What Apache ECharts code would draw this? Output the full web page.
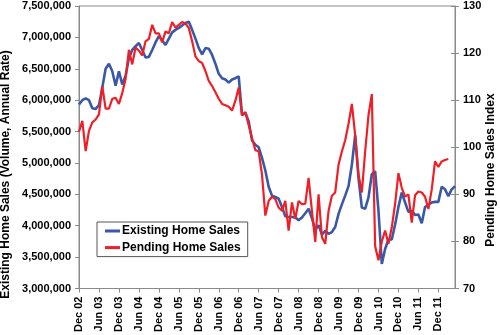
<!DOCTYPE html>
<html>
<head>
<meta charset="utf-8">
<script src="https://cdn.jsdelivr.net/npm/echarts@6/dist/echarts.min.js"></script>
<style>
html,body{margin:0;padding:0;background:#fff;}
#chart{width:500px;height:335px;}
</style>
</head>
<body>
<div id="chart"></div>
<script>
// Monthly categories Dec 02 .. May 12
const monthNames = ['Jan','Feb','Mar','Apr','May','Jun','Jul','Aug','Sep','Oct','Nov','Dec'];
const startYear = 2002, startMonth = 11, monthCount = 114;
const categories = [];
for (let k = 0; k < monthCount; k++) {
  const m = (startMonth + k) % 12;
  const y = startYear + Math.floor((startMonth + k) / 12);
  categories.push(monthNames[m] + ' ' + String(y % 100).padStart(2, '0'));
}

// Existing home sales (millions, SAAR) – left axis
const existingMillions = [
  5.93, 6.00, 6.03, 6.00, 5.87, 5.86, 5.92, 6.20, 6.50, 6.58,
  6.46, 6.23, 6.46, 6.25, 6.39, 6.67, 6.80, 6.86, 6.91, 6.80,
  6.68, 6.69, 6.80, 6.92, 7.02, 6.95, 6.88, 6.98, 7.08, 7.12,
  7.15, 7.19, 7.23, 7.25, 7.12, 6.98, 6.83, 6.73, 6.83, 6.82,
  6.72, 6.58, 6.42, 6.35, 6.33, 6.28, 6.33, 6.35, 6.38, 5.76,
  5.80, 5.66, 5.36, 5.29, 5.25, 5.08, 4.88, 4.62, 4.48, 4.46,
  4.43, 4.30, 4.15, 4.14, 4.14, 4.13, 4.09, 4.13, 4.20, 4.27,
  4.12, 3.93, 4.01, 3.86, 3.92, 3.87, 3.90, 3.98, 4.19, 4.34,
  4.48, 4.63, 4.97, 5.44, 4.76, 4.29, 4.27, 4.45, 4.82, 4.87,
  4.24, 3.39, 3.63, 3.78, 3.78, 4.02, 4.30, 4.53, 4.37, 4.22,
  4.24, 4.17, 4.18, 4.04, 4.30, 4.33, 4.37, 4.38, 4.38, 4.62,
  4.58, 4.47, 4.58, 4.63
];

// Pending home sales index – right axis
const pendingIndex = [
  103.3, 105.6, 99.2, 103.5, 105.3, 105.9, 107.0, 113.0, 108.2, 108.2,
  110.3, 110.5, 109.2, 111.5, 114.5, 120.7, 117.6, 121.2, 120.5, 119.5,
  122.5, 123.0, 126.0, 124.2, 124.2, 122.3, 124.6, 124.2, 126.6, 125.4,
  126.0, 126.6, 126.3, 125.3, 122.5, 119.3, 118.3, 117.9, 116.2, 114.1,
  113.0, 111.7, 110.3, 109.2, 108.9, 108.6, 107.8, 109.9, 112.7, 106.8,
  107.5, 104.7, 101.9, 99.4, 99.1, 94.2, 85.5, 88.6, 89.5, 89.0,
  87.2, 86.5, 88.6, 82.3, 88.3, 84.8, 88.6, 87.9, 88.0, 93.5,
  86.5, 79.9, 90.0, 80.9, 79.5, 86.5, 89.7, 90.4, 96.3, 99.1,
  101.5, 105.0, 109.2, 102.6, 94.2, 90.4, 99.1, 106.8, 111.3, 79.0,
  76.0, 80.0, 82.3, 79.5, 83.0, 88.0, 94.5, 91.4, 89.5, 90.0,
  84.0, 89.8, 90.6, 90.4, 89.5, 86.9, 91.0, 97.0, 95.8, 97.0,
  97.3, 97.5
];

const leftTicks = { min: 3000000, max: 7500000, step: 500000 };
const rightTicks = { min: 70, max: 130, step: 10 };
const seriesNames = ['Existing Home Sales', 'Pending Home Sales'];
const leftTitle = 'Existing Home Sales (Volume, Annual Rate)';
const rightTitle = 'Pending Home Sales Index';

const existing = existingMillions.map(v => Math.round(v * 1000000));
const FONT = '"Liberation Sans", Arial, sans-serif';
const AXIS_GREY = '#8a8a8a';
const BLUE = '#3b57a7';
const RED = '#ee1f26';

function commas(v) {
  return String(v).replace(/\B(?=(\d{3})+(?!\d))/g, ',');
}

const chart = echarts.init(document.getElementById('chart'), null, { renderer: 'canvas' });
chart.setOption({
  animation: false,
  backgroundColor: '#fff',
  textStyle: { fontFamily: FONT },
  grid: {
    left: 79, right: 45, top: 6, bottom: 43,
    show: true, borderColor: AXIS_GREY, borderWidth: 1, backgroundColor: 'transparent'
  },
  legend: {
    orient: 'vertical',
    left: 97, top: 222,
    padding: [2, 7, 2, 8],
    itemGap: 2.6,
    itemWidth: 15,
    itemHeight: 3,
    icon: 'rect',
    borderColor: '#555',
    borderWidth: 1,
    backgroundColor: '#fff',
    textStyle: { fontFamily: FONT, fontWeight: 'bold', fontSize: 12, color: '#000', lineHeight: 14, padding: [0, 0, 0, -3] },
    data: seriesNames
  },
  xAxis: {
    type: 'category',
    data: categories,
    boundaryGap: false,
    axisLine: { lineStyle: { color: AXIS_GREY, width: 1 } },
    axisTick: { interval: 5, length: 4, lineStyle: { color: AXIS_GREY } },
    axisLabel: {
      interval: 5, rotate: 90, margin: 8,
      fontFamily: FONT, fontWeight: 'bold', fontSize: 11, color: '#000'
    },
    splitLine: { show: false }
  },
  yAxis: [
    {
      type: 'value', position: 'left',
      min: leftTicks.min, max: leftTicks.max, interval: leftTicks.step,
      axisLine: { show: true, lineStyle: { color: AXIS_GREY } },
      axisTick: { show: true, length: 4, lineStyle: { color: AXIS_GREY } },
      axisLabel: { margin: 8, fontFamily: FONT, fontWeight: 'bold', fontSize: 11, color: '#000', formatter: v => commas(v) },
      splitLine: { show: false }
    },
    {
      type: 'value', position: 'right',
      min: rightTicks.min, max: rightTicks.max, interval: rightTicks.step,
      axisLine: { show: true, lineStyle: { color: AXIS_GREY } },
      axisTick: { show: true, length: 4, lineStyle: { color: AXIS_GREY } },
      axisLabel: { margin: 8, fontFamily: FONT, fontWeight: 'bold', fontSize: 11, color: '#000' },
      splitLine: { show: false }
    },
    {
      type: 'value', position: 'right',
      min: rightTicks.min, max: rightTicks.max, interval: rightTicks.step,
      axisLine: { show: false },
      axisTick: { show: true, inside: true, length: 4, lineStyle: { color: AXIS_GREY } },
      axisLabel: { show: false },
      splitLine: { show: false }
    }
  ],
  graphic: [
    {
      type: 'text', x: 6, y: 174.5, rotation: Math.PI / 2,
      style: { text: leftTitle, fontFamily: FONT, fontWeight: 'bold', fontSize: 12, fill: '#000', align: 'center', verticalAlign: 'middle' }
    },
    {
      type: 'text', x: 491, y: 170, rotation: Math.PI / 2,
      style: { text: rightTitle, fontFamily: FONT, fontWeight: 'bold', fontSize: 12, fill: '#000', align: 'center', verticalAlign: 'middle' }
    }
  ],
  series: [
    {
      name: seriesNames[0], type: 'line', yAxisIndex: 0,
      data: existing, showSymbol: false, symbol: 'none',
      itemStyle: { color: BLUE },
      lineStyle: { color: BLUE, width: 2.6 }
    },
    {
      name: seriesNames[1], type: 'line', yAxisIndex: 1,
      data: pendingIndex, showSymbol: false, symbol: 'none',
      itemStyle: { color: RED },
      lineStyle: { color: RED, width: 2.2 }
    }
  ]
});
</script>
</body>
</html>
